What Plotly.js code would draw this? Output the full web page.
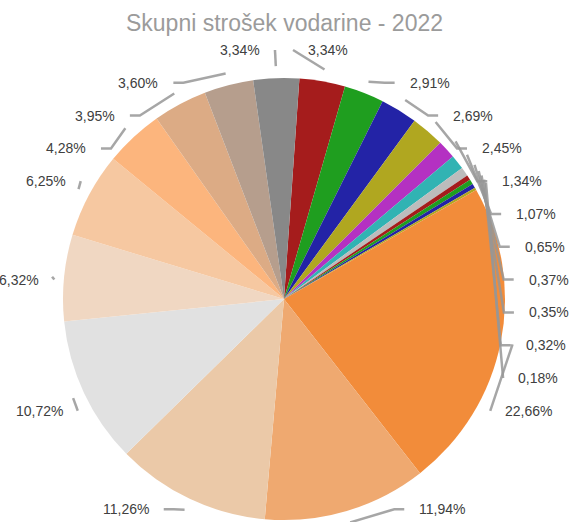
<!DOCTYPE html>
<html>
<head>
<meta charset="utf-8">
<script src="https://cdn.plot.ly/plotly-3.0.1.min.js"></script>
<style>html,body{margin:0;padding:0;background:#fff;}#chart{width:571px;height:522px;}</style>
</head>
<body>
<div id="chart"></div>
<script>
// ---- data ----
const categories = ['S01','S02','S03','S04','S05','S06','S07','S08','S09','S10','S11',
                    'S12','S13','S14','S15','S16','S17','S18','S19','S20','S21'];
const values = [3.34, 2.91, 2.69, 2.45, 1.34, 1.07, 0.65, 0.37, 0.35, 0.32, 0.18,
                22.66, 11.94, 11.26, 10.72, 6.32, 6.25, 4.28, 3.95, 3.60, 3.34];
const sliceColors = ['#a51c1c','#1f9e1f','#2323a6','#b0a720','#b431c2','#31b3b3','#bcbcbc',
                     '#a51c1c','#1f9e1f','#2323a6','#b0a720',
                     '#f28c3a','#efa970','#ebc9a8','#e1e1e1','#f0d7c2','#f6c8a1','#fcb57d',
                     '#dcab85','#b69e8d','#888888'];
const titleText = 'Skupni strošek vodarine - 2022';

// ---- layout constants ----
const W = 571, H = 522;
const margin = {l: 63, r: 66, t: 78, b: 2};
const plotW = W - margin.l - margin.r, plotH = H - margin.t - margin.b;
const cx = margin.l + plotW / 2, cy = margin.t + plotH / 2;
const R = Math.min(plotW, plotH) / 2;
const rotation = 4;

const pctText = values.map(v => v.toFixed(2).replace('.', ',') + '%');

// paper coordinate helpers
const px2x = px => (px - margin.l) / plotW;
const py2y = py => (H - margin.b - py) / plotH;

// slice mid angles (deg, clockwise from 12 o'clock)
const total = values.reduce((a, b) => a + b, 0);
let cum = 0;
const mids = values.map(v => { const m = rotation + (cum + v / 2) / total * 360; cum += v; return m % 360; });

// label layout: slots on a vertical grid, boxes kept at a distance from the centre
const slotTop = 50, slotStep = 32.8, slotMax = 14;
const LR = R + 46, D = R + 22, hh = 7, gap = 13;
const rad = d => d * Math.PI / 180;
const right = mids.map((m, i) => i).filter(i => mids[i] < 180).sort((a, b) => mids[a] - mids[b]);
const left = mids.map((m, i) => i).filter(i => mids[i] >= 180).sort((a, b) => mids[b] - mids[a]);

const annotations = [], shapes = [];
function place(list, side) {
  let last = -1;
  list.forEach(i => {
    const ny = cy - LR * Math.cos(rad(mids[i]));
    let k = Math.round((ny - slotTop) / slotStep);
    k = Math.min(Math.max(k, last + 1), slotMax);
    last = k;
    const y = slotTop + k * slotStep;
    let yn = cy;
    if (y + hh < cy) yn = y + hh; else if (y - hh > cy) yn = y - hh;
    const dx = Math.sqrt(Math.max(D * D - (yn - cy) * (yn - cy), 0));
    const xe = side > 0 ? cx + dx : cx - dx;
    annotations.push({
      xref: 'paper', yref: 'paper', x: px2x(xe), y: py2y(y),
      xanchor: side > 0 ? 'left' : 'right', yanchor: 'middle',
      text: pctText[i], showarrow: false,
      font: {family: 'Liberation Sans, Arial, sans-serif', size: 14, color: '#404040'}
    });
    // leader line
    const sx = cx + (R + 12) * Math.sin(rad(mids[i]));
    const sy = cy - (R + 12) * Math.cos(rad(mids[i]));
    const ex = xe - side * gap;
    let path = 'M' + px2x(sx) + ',' + py2y(sy);
    if (side * (ex - sx) > 20) path += ' L' + px2x(ex - side * 10) + ',' + py2y(y);
    path += ' L' + px2x(ex) + ',' + py2y(y);
    shapes.push({type: 'path', xref: 'paper', yref: 'paper', path: path,
                 line: {color: 'rgba(150,150,150,0.85)', width: 2.5}, layer: 'above'});
  });
}
place(right, 1);
place(left, -1);

const trace = {
  type: 'pie', labels: categories, values: values, sort: false,
  direction: 'clockwise', rotation: rotation,
  marker: {colors: sliceColors, line: {width: 0}},
  textinfo: 'none', hoverinfo: 'skip', showlegend: false
};

const layout = {
  width: W, height: H, margin: margin,
  paper_bgcolor: '#ffffff', plot_bgcolor: '#ffffff',
  showlegend: false,
  title: {text: titleText, xref: 'container', yref: 'container',
          x: 284.5 / W, xanchor: 'center', y: 1 - 23 / H, yanchor: 'middle',
          font: {family: 'Liberation Sans, Arial, sans-serif', size: 23, color: '#9b9b9b'}},
  annotations: annotations, shapes: shapes
};

Plotly.newPlot('chart', [trace], layout, {displayModeBar: false, staticPlot: true});
</script>
</body>
</html>
